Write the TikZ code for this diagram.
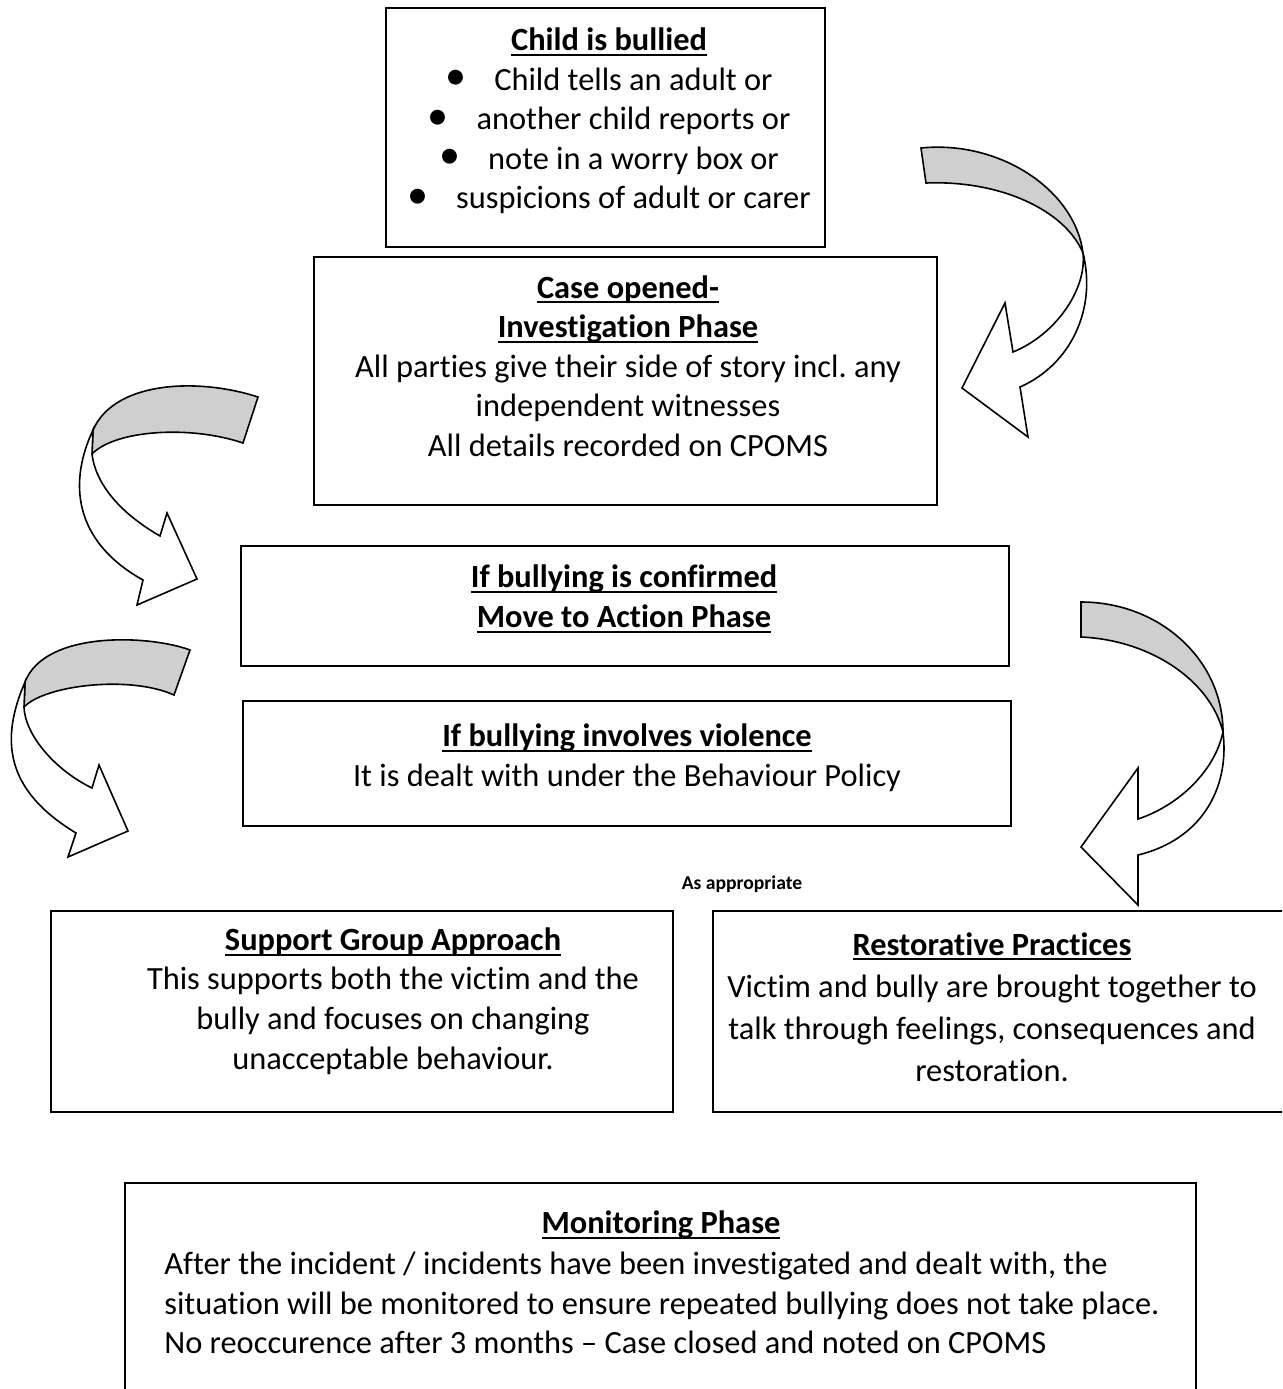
\documentclass[tikz,border=0pt]{standalone}
\usepackage{fontspec}
\usepackage{graphicx}
\setmainfont{Carlito}[Ligatures=NoCommon]
\frenchspacing
\newsavebox\ulbox
\newcommand\ult[1]{\sbox\ulbox{#1}\rlap{\rule[-2.6pt]{\wd\ulbox}{1pt}}\usebox\ulbox}
\newcommand\bul{\raisebox{0.3pt}{\scalebox{1.3}{\textbullet}}\hspace{14pt}}
\begin{document}
\begin{tikzpicture}[x=0.5pt,y=-0.5pt,
  box/.style={draw, line width=0.9pt, rectangle, inner sep=0pt},
  txt/.style={align=center, inner sep=0pt, font=\fontsize{16.2}{19.8}\selectfont},
  front/.style={draw, line width=0.8pt, line join=miter, fill=white},
  back/.style={draw, line width=0.8pt, line join=miter, fill=black!19}]
\useasboundingbox (0,0) rectangle (1282,1389);
\clip (0,0) rectangle (1282,1389);

% boxes
\node[box, minimum width=219.5pt, minimum height=119.5pt] (b1) at (605.5,127.5) {};
\node[box, minimum width=311.5pt, minimum height=124pt] (b2) at (625.5,381) {};
\node[box, minimum width=384pt, minimum height=60pt] (b3) at (625,606) {};
\node[box, minimum width=384pt, minimum height=62.5pt] (b4) at (627,763.5) {};
\node[box, minimum width=311pt, minimum height=100.5pt] (b5) at (362,1011.5) {};
\node[box, minimum width=288.5pt, minimum height=100.5pt] (b6) at (1001.5,1011.5) {};
\node[box, minimum width=535.5pt, minimum height=108.5pt] (b7) at (660.5,1291.5) {};

% texts
\node[txt] (t1) at (609,121) {\ult{\textbf{Child is bullied}}\\
  \bul Child tells an adult or\\
  \bul another child reports or\\
  \bul note in a worry box or\\
  \bul suspicions of adult or carer};
\node[txt] (t2) at (628,366) {\ult{\textbf{Case opened-}}\\
  \ult{\textbf{Investigation Phase}}\\
  All parties give their side of story incl. any\\
  independent witnesses\\
  All details recorded on CPOMS};
\node[txt] (t3) at (624,599) {\ult{\textbf{If bullying is confirmed}}\\
  \ult{\textbf{Move to Action Phase}}};
\node[txt] (t4) at (627,758) {\ult{\textbf{If bullying involves violence}}\\
  It is dealt with under the Behaviour Policy};
\node[font=\bfseries\fontsize{9.8}{11}\selectfont, inner sep=0pt] (ap) at (742,884) {As appropriate};
\node[txt] (t5) at (393,1001) {\ult{\textbf{Support Group Approach}}\\
  This supports both the victim and the\\
  bully and focuses on changing\\
  unacceptable behaviour.};
\node[txt, font=\fontsize{16.2}{21}\selectfont] (t6) at (992,1007) {\ult{\textbf{Restorative Practices}}\\
  Victim and bully are brought together to\\
  talk through feelings, consequences and\\
  restoration.};
\node[txt] (t7h) at (661,1225) {\ult{\textbf{Monitoring Phase}}};
\node[txt, align=left, anchor=west] (t7) at (164,1303) {After the incident / incidents have been investigated and dealt with, the\\
  situation will be monitored to ensure repeated bullying does not take place.\\
  No reoccurence after 3 months – Case closed and noted on CPOMS};

% arrow 1 (top right)
\draw[back] (921,148) .. controls (1000,140) and (1075,190) .. (1083,253)
  .. controls (1065,210) and (1000,180) .. (926,183) -- cycle;
\draw[front] (1083,253) .. controls (1097,310) and (1070,365) .. (1020,387)
  -- (1028,437) -- (962,388) -- (1005,303) -- (1013,352)
  .. controls (1055,335) and (1087,290) .. (1083,253) -- cycle;

% arrow 2 (left, upper)
\draw[back] (258,397) .. controls (200,378) and (115,380) .. (93,430)
  -- (92,454) .. controls (115,430) and (190,425) .. (243,443) -- cycle;
\draw[front] (93,430) .. controls (65,490) and (80,545) .. (143,580)
  -- (137,605) -- (197,579) -- (167,513) -- (160,536)
  .. controls (115,510) and (95,480) .. (92,454) -- cycle;

% arrow 3 (left, lower)
\draw[back] (190,650) .. controls (150,635) and (45,630) .. (25,682)
  -- (24,707) .. controls (45,685) and (130,675) .. (174,695) -- cycle;
\draw[front] (25,682) .. controls (0,740) and (5,790) .. (76,833)
  -- (68,857) -- (128,831) -- (99,765) -- (92,788)
  .. controls (55,770) and (25,735) .. (24,707) -- cycle;

% arrow 4 (right, lower)
\draw[back] (1081,602) .. controls (1160,602) and (1223,660) .. (1223,732)
  .. controls (1210,680) and (1150,640) .. (1081,637) -- cycle;
\draw[front] (1223,732) .. controls (1230,790) and (1200,840) .. (1138,855)
  -- (1138,905) -- (1081,847) -- (1138,768) -- (1138,819)
  .. controls (1180,805) and (1215,770) .. (1223,732) -- cycle;
\end{tikzpicture}
\end{document}
